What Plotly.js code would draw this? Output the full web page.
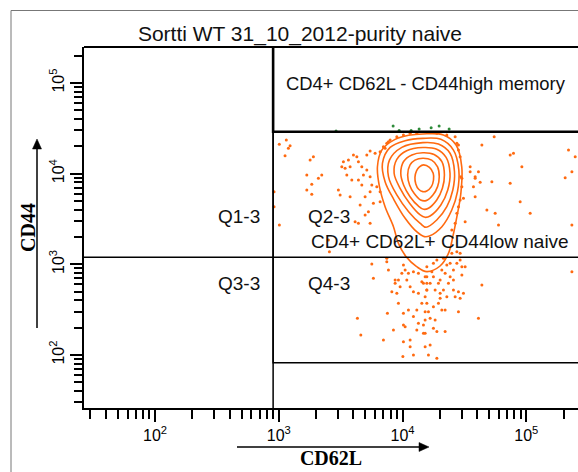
<!DOCTYPE html>
<html><head><meta charset="utf-8">
<script src="https://cdn.plot.ly/plotly-3.0.1.min.js"></script>
<style>html,body{margin:0;padding:0;background:#fff;}#chart{width:578px;height:472px;}</style>
</head><body><div id="chart"></div>
<script>
// ---- data (CD62L on x, CD44 on y) ----
const titleText = 'Sortti WT 31_10_2012-purity naive';
const xAxisTitle = 'CD62L';
const yAxisTitle = 'CD44';

// gate / quadrant thresholds
const quadCD62L = 900;
const quadCD44 = 1200;
const memoryGateLowCD44 = 29000;
const naiveGateLowCD44 = 82;
const gateFarCD62L = 1e6;
const gateFarCD44 = 1e6;
const gateNearCD62L = 10;
const gateNearCD44 = 10;

// events inside the naive gate, upper part (CD44 above quadrant)
const upperCD62L = [1150,1010,1234,1196,1124,1904,1791,1684,2226,2090,1848,1684,1848,3032,3130,3231,3653,3771,4272,4401,4688,5145,5471,6004,6590,7234,7691,5145,5471,5646,4830,4401,4688,3892,6197,6590,5471,3771,4543,4984,5301,4984,5471,4401,4139,5816,6590,916,916,1011,2518,3436,3546,4011,3329];
const upperCD44  = [23500,21100,20340,19040,15790,15390,14150,9666,9666,8888,7632,6604,5921,6604,5815,11940,14150,11940,15390,13550,11940,16060,17780,16770,17470,19040,22510,10975,9258,7498,9666,8511,7498,8511,7182,6326,6326,5570,4511,5570,3807,3500,2835,2835,2953,4711,4906,6326,4321,2715,1855,11460,9666,16060,13550];
const rightCD62L = [55030,43770,74110,78800,92130,52720,42400,38630,37420,38630,48030,56060,74110,89270,107500,59630,206200,233700,219400,248500,233700,30160,31070,35200,28310,32070,35200,41080,38630];
const rightCD44  = [25560,20710,16060,16770,11940,8152,8029,9258,7182,5570,3973,3654,7827,4906,3654,2715,9025,10510,18240,15390,2715,8888,5350,10510,20710,2953,11940,10510,8888];
const rimCD62L = [7007,7464,7937,8993,10170,11520,13050,18940,22810,26620,27480,28310,29220,29600,30160,29220,28310,27480,26620,25030];
const rimCD44  = [19830,21620,23500,25560,26700,27870,27870,27870,26700,25560,21620,18240,15390,9258,7182,5123,4321,3654,2835,2390];
// events in the lower tail (CD44 below quadrant)
const tailLeftCD62L = [2566,5646,5816,7464,7691,4319,4601,7007,7548,8443,9266,10170,8993,8197,9563,10170,10500,11520,10170,11520,10060,12250,13050,13440,14760,12250,11160,13050,14320,15230,15720,9870,10500,10170,9266,8714,10830,11520,12250,13440,14320,15720,15720,12250,13440,11160,15230,15230,15230,7464,8714];
const tailLeftCD44  = [1378,1008,701,1069,866,254,166,146,288,189,372,288,479,499,567,214,205,146,140,123,96,100,189,224,174,265,313,313,372,440,521,796,866,983,672,618,672,567,499,479,643,618,730,829,796,796,123,243,300,1165,672];
const tailRightCD62L = [15720,17770,20130,22100,22810,24250,25790,27480,29220,30160,32070,30160,24250,23500,19510,16720,15720,18340,20130,21410,25790,28310,31070,29220,26620,22810,20130,19510,20780,22100,17770,15720,16200,16720,18340,17770,18940,22100,14760,15230,16720,16200,18940,28310,41080,43770,233700,25030,27480,29220,21410,18940,17770,17260,15230,14760,20780,25790];
const tailRightCD44  = [942,730,672,796,983,1027,866,1027,1116,942,942,763,730,618,618,618,521,521,479,521,521,499,479,422,440,440,422,372,313,313,341,372,300,254,243,197,181,181,214,174,129,100,92,300,254,592,829,1323,1378,1323,1165,1116,1027,829,730,618,866,672];
// events in the memory gate (green)
const memoryCD62L = [2905,8395,9387,11740,13620,17030,19760,23810];
const memoryCD44  = [29500,33500,30000,30000,31000,32000,33500,31000];

// density contour rings, innermost to outermost
const ring1CD62L = [14800,16500,17700,17800,17100,15700,14600,13500,12800,12600,13000,13700];
const ring1CD44  = [12500,11700,10100,8510,7190,6440,6330,6720,7690,9110,10800,11900];
const ring2CD62L = [14600,17200,19200,19800,19200,17600,15500,14000,12400,11400,11000,11500,12600];
const ring2CD44  = [14800,14100,11900,9270,7190,5820,5040,5120,6070,7500,9670,12500,14100];
const ring3CD62L = [14600,18000,20800,21800,21000,18900,16200,14800,13400,11500,10200,9680,10200,11900];
const ring3CD44  = [17000,16300,13600,9670,6890,5120,4150,4040,4400,5570,7500,10100,13600,16100];
const ring4CD62L = [14600,18900,22500,24200,23200,20400,16700,15200,13900,11400,9560,8550,8990,10800];
const ring4CD44  = [19400,18600,15100,10100,6600,4510,3410,3300,3500,4710,6890,10100,14400,17900];
const ring5CD62L = [14600,19500,24200,26300,25500,22800,18900,15500,13900,11200,8990,7700,7840,9870];
const ring5CD44  = [22000,21200,16800,10500,6600,4320,3080,2560,2830,3810,5820,9270,14100,19500];
const ring6CD62L = [14600,20400,25800,28500,27800,25000,20800,16500,15000,13000,10500,8550,7230,6880,7940,10500];
const ring6CD44  = [24500,23900,18200,11000,6330,3970,2600,2050,2020,2290,3220,5120,8160,13000,19500,23100];
const ring7CD62L = [14600,21400,27100,30100,29600,27500,25500,23500,20100,15700,13000,10700,9270,8450,7230,6510,6270,6800,8710,11200];
const ring7CD44  = [27400,26700,20700,11900,6070,3350,2020,1320,958,830,943,1210,1700,2600,4320,7190,11900,18200,23900,26500];

// tick labels
const majorVals = [100, 1000, 10000, 100000];
const majorText = ['10<sup>2</sup>','10<sup>3</sup>','10<sup>4</sup>','10<sup>5</sup>'];
const minorDigits = [2,3,4,5,6,7,8,9];
const minorDecades = [10,100,1000,10000,100000];

// ---- build ----
const ORANGE = '#ff6a10';
const SANS = 'Liberation Sans, Arial, sans-serif';
const SERIF = 'Liberation Serif, Times New Roman, serif';
function minorTicks(lo, hi){
  const out=[];
  minorDecades.forEach(d=>minorDigits.forEach(k=>{const v=d*k; if(v>=lo && v<=hi) out.push(v);}));
  return out;
}
const xRange=[1.426,5.418], yRange=[1.415,5.397];
const minorX = minorTicks(Math.pow(10,xRange[0]), Math.pow(10,xRange[1]));
const minorY = minorTicks(Math.pow(10,yRange[0]), Math.pow(10,yRange[1]));

function closed(a){return a.concat([a[0]]);}
const traces=[];
function dots(x,y,color){traces.push({type:'scatter',mode:'markers',x:x,y:y,marker:{color:color,size:3,line:{width:0}},hoverinfo:'skip'});}
dots(upperCD62L,upperCD44,ORANGE);
dots(rightCD62L,rightCD44,ORANGE);
dots(rimCD62L,rimCD44,ORANGE);
dots(tailLeftCD62L,tailLeftCD44,ORANGE);
dots(tailRightCD62L,tailRightCD44,ORANGE);
dots(memoryCD62L,memoryCD44,'#2e8b3a');
[[ring1CD62L,ring1CD44],[ring2CD62L,ring2CD44],[ring3CD62L,ring3CD44],[ring4CD62L,ring4CD44],[ring5CD62L,ring5CD44],[ring6CD62L,ring6CD44],[ring7CD62L,ring7CD44]].forEach(r=>{
  traces.push({type:'scatter',mode:'lines',x:closed(r[0]),y:closed(r[1]),line:{color:ORANGE,width:1.6,shape:'spline',smoothing:1},hoverinfo:'skip'});
});
function gateLine(x,y,w){traces.push({type:'scatter',mode:'lines',x:x,y:y,line:{color:'#000',width:w},hoverinfo:'skip'});}
// quadrant lines
gateLine([quadCD62L,quadCD62L],[gateNearCD44,gateFarCD44],1.5);
gateLine([gateNearCD62L,gateFarCD62L],[quadCD44,quadCD44],1.5);
// naive gate
gateLine([gateFarCD62L,quadCD62L,quadCD62L,gateFarCD62L],[naiveGateLowCD44,naiveGateLowCD44,memoryGateLowCD44,memoryGateLowCD44],1.5);
// memory gate
gateLine([quadCD62L,quadCD62L,gateFarCD62L],[gateFarCD44,memoryGateLowCD44,memoryGateLowCD44],2.6);

// pixel -> paper helpers for decorations (plot area 84..578 x 47..408)
const PL=84, PT=47, PW=494, PH=361;
const px=v=>(v-PL)/PW, py=v=>(PT+PH-v)/PH;

const lblFont={family:SANS,size:19,color:'#111'};
const annotations=[
  {text:'Q1-3',x:px(262),y:py(217),xanchor:'right',yanchor:'middle'},
  {text:'Q3-3',x:px(262),y:py(283),xanchor:'right',yanchor:'middle'},
  {text:'Q2-3',x:px(306),y:py(217),xanchor:'left',yanchor:'middle'},
  {text:'Q4-3',x:px(306),y:py(283),xanchor:'left',yanchor:'middle'},
  {text:'CD4+ CD62L+ CD44low naive',x:px(309),y:py(242),xanchor:'left',yanchor:'middle',font:{family:SANS,size:19,color:'#111'}},
  {text:'CD4+ CD62L - CD44high memory',x:px(426),y:py(83),xanchor:'center',yanchor:'middle',font:{family:SANS,size:18.4,color:'#111'}}
].map(a=>Object.assign({xref:'paper',yref:'paper',showarrow:false,font:lblFont},a));

const shapes=[
  {type:'line',xref:'paper',yref:'paper',x0:0,x1:1.01,y0:1,y1:1,line:{color:'#000',width:2},layer:'below'},
  {type:'rect',xref:'paper',yref:'paper',x0:px(11),x1:px(620),y0:py(10.5),y1:py(520),line:{color:'#777',width:1}},
  // axis arrows
  {type:'line',xref:'paper',yref:'paper',x0:px(37),x1:px(37),y0:py(328),y1:py(147),line:{color:'#000',width:1.5}},
  {type:'path',xref:'paper',yref:'paper',path:`M ${px(37)} ${py(139)} L ${px(32.5)} ${py(149)} L ${px(41.5)} ${py(149)} Z`,fillcolor:'#000',line:{color:'#000',width:0.5}},
  {type:'line',xref:'paper',yref:'paper',x0:px(237),x1:px(420),y0:py(447),y1:py(447),line:{color:'#000',width:1.5}},
  {type:'path',xref:'paper',yref:'paper',path:`M ${px(429)} ${py(447)} L ${px(419)} ${py(442.5)} L ${px(419)} ${py(451.5)} Z`,fillcolor:'#000',line:{color:'#000',width:0.5}}
];

const tickFont={family:SANS,size:16,color:'#000'};
const axisCommon={type:'log',showgrid:false,zeroline:false,showline:true,linecolor:'#000',linewidth:2,
  ticks:'outside',ticklen:12,tickwidth:2,tickcolor:'#000',tickmode:'array',tickvals:majorVals,ticktext:majorText,tickfont:tickFont,
  fixedrange:true};
const layout={
  width:578,height:472,margin:{l:PL,r:0,t:PT,b:472-PT-PH,pad:0},
  paper_bgcolor:'#fff',plot_bgcolor:'#fff',showlegend:false,hovermode:false,
  title:{text:titleText,font:{family:SANS,size:21,color:'#111'},x:0.519,xref:'container',xanchor:'center',y:1-34/472,yref:'container',yanchor:'middle'},
  xaxis:Object.assign({},axisCommon,{range:xRange,
    minor:{tickvals:minorX,ticks:'outside',ticklen:9,tickwidth:2,tickcolor:'#000',showgrid:false},
    title:{text:xAxisTitle,font:{family:SERIF,size:20,weight:'bold',color:'#000'},standoff:8}}),
  yaxis:Object.assign({},axisCommon,{range:yRange,tickangle:-90,
    minor:{tickvals:minorY,ticks:'outside',ticklen:8,tickwidth:2,tickcolor:'#000',showgrid:false},
    title:{text:yAxisTitle,font:{family:SERIF,size:20,weight:'bold',color:'#000'},standoff:6}}),
  annotations:annotations,shapes:shapes
};
Plotly.newPlot('chart',traces,layout,{displayModeBar:false,staticPlot:true});
</script></body></html>
